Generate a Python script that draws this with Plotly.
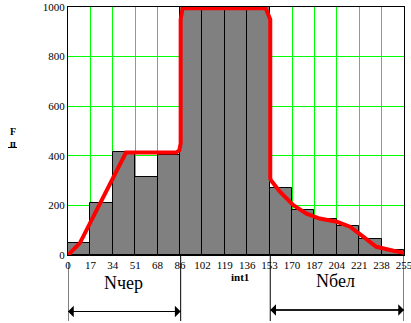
import plotly.graph_objects as go

# ---- data ----
bin_edges = [0, 17, 34, 51, 68, 85, 102, 119, 136, 153, 170, 187, 204, 221, 238, 255]
x_tick_labels = ["0", "17", "34", "51", "68", "86", "102", "119", "136", "153",
                 "170", "187", "204", "221", "238", "255"]
bar_heights = [49, 211, 415, 315, 404, 1000, 1000, 1000, 1000, 270, 183, 147, 118, 65, 20]

y_ticks = [0, 200, 400, 600, 800, 1000]

red_x = [0, 9, 44, 82, 84.5, 85.5, 85.5, 87, 150, 153.5, 153.5, 154, 161, 171, 181, 191,
         204, 214, 224, 234, 247, 255]
red_y = [0, 48, 413, 413, 422, 450, 950, 995, 995, 950, 310, 301, 254, 201, 167, 147,
         134, 114, 74, 33, 17, 9]

left_group = [0, 85.5]
right_group = [153.5, 255]
left_label = "Nчер"
right_label = "Nбел"
x_title = "int1"

# ---- figure ----
bar_x = [(bin_edges[i] + bin_edges[i + 1]) / 2 for i in range(len(bar_heights))]
bar_w = [bin_edges[i + 1] - bin_edges[i] for i in range(len(bar_heights))]

fig = go.Figure()
fig.add_trace(go.Bar(x=bar_x, y=bar_heights, width=bar_w,
                     marker=dict(color="#808080", line=dict(color="black", width=1)),
                     hoverinfo="skip"))
fig.add_trace(go.Scatter(x=red_x, y=red_y, mode="lines",
                         line=dict(color="#ff0000", width=4), hoverinfo="skip"))

serif = "Liberation Serif, Times New Roman, serif"

fig.update_layout(
    width=411, height=323,
    margin=dict(l=68, r=7, t=7, b=68, autoexpand=False),
    paper_bgcolor="white", plot_bgcolor="white",
    showlegend=False, bargap=0,
    font=dict(family=serif, size=11, color="black"),
    xaxis=dict(range=[0, 255], tickvals=bin_edges, ticktext=x_tick_labels,
               showgrid=True, gridcolor="#00ff00", gridwidth=1, automargin=False,
               ticklabeloverflow="allow",
               showline=True, linecolor="black", linewidth=1, mirror=True,
               zeroline=False, ticks="", tickfont=dict(family=serif, size=11)),
    yaxis=dict(range=[0, 1000], tickvals=y_ticks, automargin=False,
               showgrid=True, gridcolor="#00ff00", gridwidth=1,
               showline=True, linecolor="black", linewidth=1, mirror=True,
               zeroline=False, ticks="", tickfont=dict(family=serif, size=11)),
)

def py(p):
    # pixel y -> paper y (plot spans 7..255 px)
    return (255 - p) / 248.0

def px(p):
    # pixel x -> paper x (plot spans 68..404 px)
    return (p - 68) / 336.0

arrow_rows = [(left_group, 311.5), (right_group, 310)]

shapes = []
for xv, top in [(left_group[0], 262), (left_group[1], 255), (right_group[0], 255), (right_group[1], 255)]:
    shapes.append(dict(type="line", xref="x", yref="paper", x0=xv, x1=xv,
                       y0=py(top), y1=py(321), line=dict(color="black", width=1)))
for (a, b), yy in arrow_rows:
    shapes.append(dict(type="line", xref="x", yref="paper", x0=a, x1=b,
                       y0=py(yy), y1=py(yy), line=dict(color="black", width=1.2)))
# underline of y label
shapes.append(dict(type="line", xref="paper", yref="paper",
                   x0=px(8), x1=px(17), y0=py(147.5), y1=py(147.5),
                   line=dict(color="black", width=1)))
fig.update_layout(shapes=shapes)

ann = []
for (a, b), yy in arrow_rows:
    for end, tail in ((a, b), (b, a)):
        ann.append(dict(xref="x", yref="paper", axref="x", ayref="pixel",
                        x=end, y=py(yy), ax=tail, ay=0, text="",
                        showarrow=True, arrowhead=1, arrowsize=1.6, arrowwidth=1.2,
                        arrowcolor="black"))
ann.append(dict(xref="x", yref="paper", x=sum(left_group) / 2 - 0.5, y=py(295), text=left_label,
                showarrow=False, font=dict(family=serif, size=18)))
ann.append(dict(xref="x", yref="paper", x=sum(right_group) / 2 - 1, y=py(293), text=right_label,
                showarrow=False, font=dict(family=serif, size=18)))
ann.append(dict(xref="x", yref="paper", x=130.5, y=py(285), text="<b>" + x_title + "</b>",
                showarrow=False, font=dict(family=serif, size=11)))
ann.append(dict(xref="paper", yref="paper", x=px(13), y=py(131), text="<b>F</b>",
                showarrow=False, xanchor="center", font=dict(family=serif, size=10)))
ann.append(dict(xref="paper", yref="paper", x=px(12.5), y=py(143), text="<b>п</b>",
                showarrow=False, xanchor="center", font=dict(family=serif, size=10)))
fig.update_layout(annotations=ann)

fig.write_html("out.html", config={"displayModeBar": False},
               post_script="document.body.style.margin='0';document.body.style.overflow='hidden';")
